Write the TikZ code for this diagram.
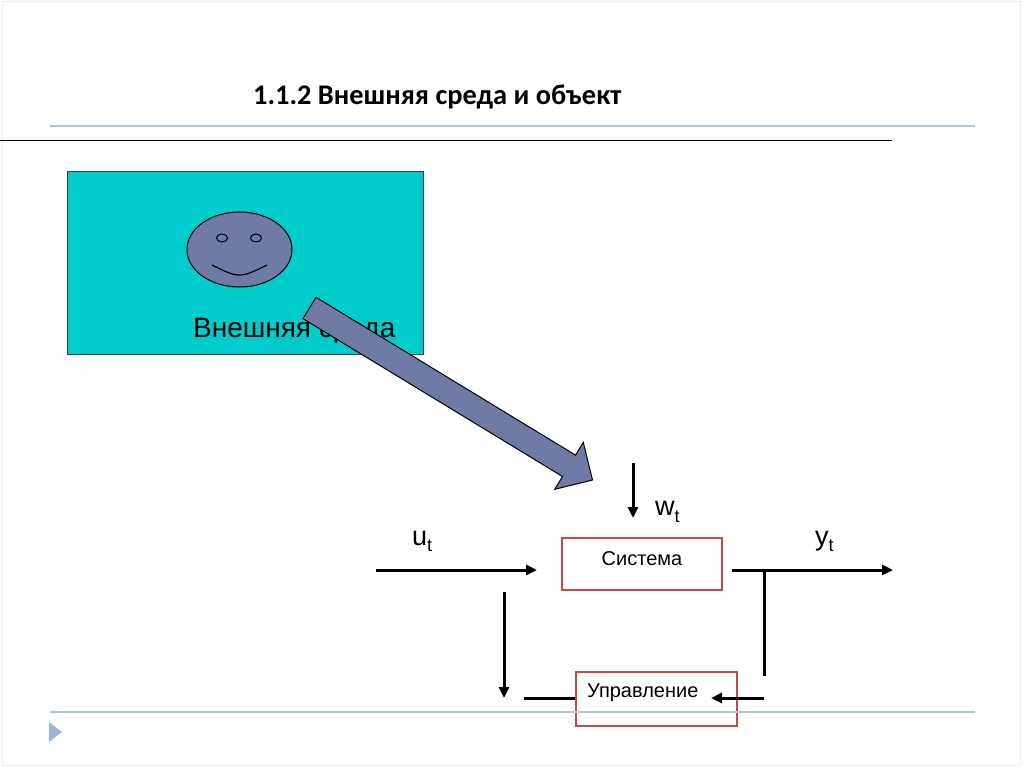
\documentclass[tikz,border=0pt]{standalone}
\usepackage{fontspec}
\setmainfont{Liberation Sans}
\newfontfamily\titlefont{Carlito}
\usetikzlibrary{shapes.geometric,arrows.meta}
\definecolor{envcyan}{RGB}{0,204,204}
\definecolor{slate}{RGB}{111,123,165}
\definecolor{paleline}{RGB}{180,198,218}
\definecolor{boxred}{RGB}{200,70,70}
\definecolor{trib}{RGB}{157,181,206}
\definecolor{faint}{RGB}{238,238,238}
\tikzset{
  sig/.style={line width=3pt,-{Triangle[length=11pt,width=10pt]}},
  plain/.style={line width=3pt},
  redbox/.style={draw=boxred,line width=1.2pt,rectangle,inner sep=0pt},
  lbl/.style={inner sep=0pt,anchor=base west,font=\fontsize{27}{27}\selectfont},
  small/.style={inner sep=0pt,font=\fontsize{20}{20}\selectfont},
}
\newcommand{\subt}{\raisebox{-0.25em}{\fontsize{18}{18}\selectfont t}}
\begin{document}
\begin{tikzpicture}[x=1pt,y=-1pt]
\useasboundingbox (0,0) rectangle (1024,767);
\draw[faint,line width=1pt] (2,2) rectangle (1020,765);
% header
\node[inner sep=0pt,anchor=base west,font=\titlefont\bfseries\fontsize{28.4}{28}\selectfont] (title) at (253,104.3) {1.1.2 Внешняя среда и объект};
\draw[paleline,line width=1.5pt] (50,126) -- (975,126);
\draw[black,line width=1.6pt] (0,140.5) -- (892,140.5);
% environment
\node[draw=black!75,line width=1pt,fill=envcyan,anchor=north west,minimum width=356pt,minimum height=183pt,inner sep=0pt] (env) at (67,171) {};
\node[ellipse,draw=black,line width=1pt,fill=slate,minimum width=105pt,minimum height=75pt,inner sep=0pt] (face) at (239.5,249.5) {};
\node[ellipse,draw=black,line width=1pt,fill=slate,minimum width=11pt,minimum height=8pt,inner sep=0pt] (eyeL) at (222,238) {};
\node[ellipse,draw=black,line width=1pt,fill=slate,minimum width=11pt,minimum height=8pt,inner sep=0pt] (eyeR) at (256,238) {};
\draw[line width=1.2pt] (212,265) .. controls (239.5,278.5) .. (267,265);
\node[inner sep=0pt,anchor=base west,font=\fontsize{28}{28}\selectfont] (envtxt) at (193,337.5) {Внешняя среда};
% big arrow
\draw[fill=slate,line width=1pt,line join=miter] (316,297.3) -- (575.5,455.1) -- (583.3,442.3) -- (592.5,480) -- (554.7,489.3) -- (562.5,476.5) -- (303,318.7) -- cycle;
% system
\node[redbox,minimum width=160pt,minimum height=52pt] (sys) at (642,564) {};
\node[small,anchor=base] (systxt) at (642,565) {Система};
\node[redbox,minimum width=161pt,minimum height=54pt] (ctrl) at (656.5,699) {};
\node[small,anchor=base west] (ctrltxt) at (587,697) {Управление};
% labels
\node[lbl] (ut) at (412,545) {u\subt};
\node[lbl] (wt) at (655,515.5) {w\subt};
\node[lbl] (yt) at (815,545) {y\subt};
% connectors
\coordinate (u0) at (376,570); \coordinate (u1) at (537,570);
\coordinate (w0) at (633,463); \coordinate (w1) at (633,518);
\coordinate (y0) at (732,570); \coordinate (y1) at (893,570);
\coordinate (b0) at (764,570); \coordinate (b1) at (764,676);
\coordinate (r0) at (764,698); \coordinate (r1) at (711,698);
\coordinate (l1) at (524,698);
\coordinate (d0) at (504,592); \coordinate (d1) at (504,698);
\draw[sig] (u0) -- (u1);
\draw[sig] (w0) -- (w1);
\draw[sig] (y0) -- (y1);
\draw[plain] (b0) -- (b1);
\draw[sig] (r0) -- (r1);
\draw[plain] (ctrl.west |- l1) -- (l1);
\draw[sig] (d0) -- (d1);
% footer
\draw[paleline,line width=1.5pt] (50,712) -- (975,712);
\fill[trib] (49,722) -- (62,732) -- (49,742) -- cycle;
\end{tikzpicture}
\end{document}
